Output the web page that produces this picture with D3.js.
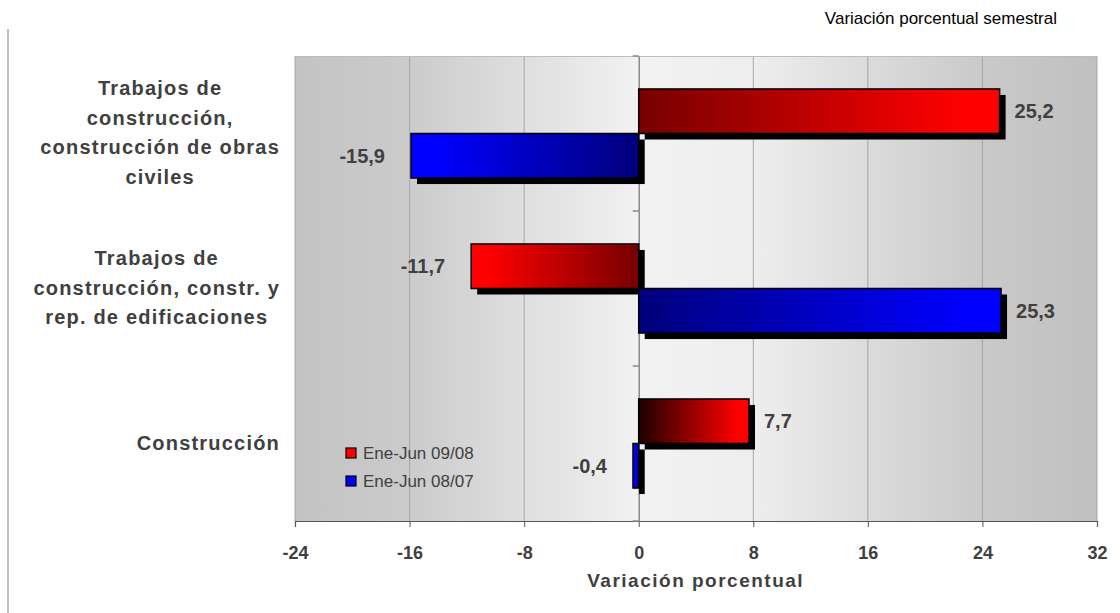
<!DOCTYPE html>
<html>
<head>
<meta charset="utf-8">
<script src="https://cdn.jsdelivr.net/npm/d3@7"></script>
<style>
  body { margin: 0; background: #fff; }
  text { font-family: "Liberation Sans", Arial, sans-serif; fill: #404040; }
</style>
</head>
<body>
<div id="chart"></div>
<script>
// chart data
var categories = ["obras", "edificaciones", "construccion"];
var categoryLines = [
  ["Trabajos de", "construcción,", "construcción de obras", "civiles"],
  ["Trabajos de", "construcción, constr. y", "rep. de edificaciones"],
  ["Construcción"]
];
var seriesNames = ["Ene-Jun 09/08", "Ene-Jun 08/07"];
var values0908 = [25.2, -11.7, 7.7];
var values0807 = [-15.9, 25.3, -0.4];
var xTicks = [-24, -16, -8, 0, 8, 16, 24, 32];
var noteText = "Variación porcentual semestral";
var axisTitle = "Variación porcentual";

var svgWidth = 1120;
var svgHeight = 613;
var margin = { top: 56, right: 23, bottom: 92, left: 295 };
var chartWidth = svgWidth - margin.left - margin.right;
var chartHeight = svgHeight - margin.top - margin.bottom;

var fmt = d3.formatLocale({ decimal: ",", thousands: ".", grouping: [3], currency: ["", ""], minus: "-" }).format(".1f");

var svg = d3.select("#chart").append("svg")
  .attr("width", svgWidth)
  .attr("height", svgHeight);

var defs = svg.append("defs");

// background gradient of the plot area
var bg = defs.append("linearGradient").attr("id", "bg").attr("x1", 0).attr("x2", 1).attr("y1", 0).attr("y2", 0);
[[0, "#c3c3c3"], [0.14, "#cbcbcb"], [0.43, "#f2f2f2"], [0.57, "#eeeeee"], [0.86, "#c9c9c9"], [1, "#c0c0c0"]]
  .forEach(function(s) { bg.append("stop").attr("offset", s[0]).attr("stop-color", s[1]); });

// left frame line
svg.append("line")
  .attr("x1", 8).attr("x2", 8).attr("y1", 29).attr("y2", 613)
  .attr("stroke", "#c0c0c0").attr("stroke-width", 2);

// note top right
svg.append("text")
  .attr("x", 1057).attr("y", 24)
  .attr("text-anchor", "end")
  .style("font-size", "17px")
  .style("fill", "#000")
  .text(noteText);

var chartGroup = svg.append("g")
  .attr("transform", `translate(${margin.left}, ${margin.top})`);

var xScale = d3.scaleLinear().domain([-24, 32]).range([0, chartWidth]);
var yScale = d3.scaleBand().domain(categories).range([0, chartHeight]);
var subScale = d3.scaleBand().domain(seriesNames).range([0, yScale.bandwidth()])
  .paddingInner(0).paddingOuter(0.74);

chartGroup.append("rect")
  .attr("width", chartWidth).attr("height", chartHeight)
  .attr("fill", "url(#bg)");

// grid lines
chartGroup.selectAll(".grid")
  .data(xTicks.filter(function(t) { return t !== 0; }))
  .enter().append("line")
  .attr("x1", function(d) { return xScale(d); })
  .attr("x2", function(d) { return xScale(d); })
  .attr("y1", 0).attr("y2", chartHeight)
  .attr("stroke", "#a6a6a6").attr("stroke-width", 1);

chartGroup.append("line")
  .attr("x1", 0).attr("x2", chartWidth).attr("y1", 0.5).attr("y2", 0.5)
  .attr("stroke", "#bdbdbd");

// bottom axis
var bottomAxis = d3.axisBottom(xScale).tickValues(xTicks).tickSize(6).tickFormat(d3.format("d"));
var gx = chartGroup.append("g")
  .attr("transform", `translate(0,${chartHeight})`)
  .call(bottomAxis);
gx.select(".domain").attr("stroke", "#555").attr("stroke-width", 1.2);
gx.selectAll(".tick line").attr("stroke", "#555");
gx.selectAll(".tick text")
  .attr("dy", null).attr("y", 38)
  .style("font-size", "18px").style("font-weight", "bold")
  .style("font-family", "'Liberation Sans', Arial, sans-serif")
  .style("fill", "#404040")
  .text(function(d) { return d3.format("d")(d).replace("−", "-"); });

// zero axis
var leftAxis = d3.axisLeft(yScale).tickValues([]).tickSizeOuter(0);
var gy = chartGroup.append("g")
  .attr("transform", `translate(${xScale(0)},0)`)
  .call(leftAxis);
gy.select(".domain").attr("stroke", "#8a8a8a").attr("stroke-width", 1.5);
var boundaries = d3.range(categories.length + 1).map(function(i) { return i * yScale.step(); });
gy.selectAll(".bound").data(boundaries).enter().append("line")
  .attr("x1", -6).attr("x2", 0)
  .attr("y1", function(d) { return d; }).attr("y2", function(d) { return d; })
  .attr("stroke", "#8a8a8a").attr("stroke-width", 1.5);

// bars
var rows = [];
categories.forEach(function(c, i) {
  rows.push({ cat: c, series: seriesNames[0], value: values0908[i], idx: i, s: 0 });
  rows.push({ cat: c, series: seriesNames[1], value: values0807[i], idx: i, s: 1 });
});

var redDark = d3.scaleLinear().domain([7.7, 11.7]).range(["#1e0000", "#760000"]).clamp(true);
var blueDark = d3.scaleLinear().domain([0.4, 15.9]).range(["#0000b0", "#00007c"]).clamp(true);

rows.forEach(function(d, i) {
  var g = defs.append("linearGradient").attr("id", "g" + i)
    .attr("y1", 0).attr("y2", 0)
    .attr("x1", d.value >= 0 ? 0 : 1).attr("x2", d.value >= 0 ? 1 : 0);
  var dark = d.s === 0 ? redDark(Math.abs(d.value)) : blueDark(Math.abs(d.value));
  var bright = d.s === 0 ? "#ff0000" : "#0000ff";
  g.append("stop").attr("offset", 0).attr("stop-color", dark);
  g.append("stop").attr("offset", 0.9).attr("stop-color", bright);
  g.append("stop").attr("offset", 1).attr("stop-color", bright);
});

function barX(d) { return Math.min(xScale(0), xScale(d.value)); }
function barW(d) { return Math.abs(xScale(d.value) - xScale(0)); }
function barY(d) { return yScale(d.cat) + subScale(d.series); }

var gbars = chartGroup.selectAll(".bar").data(rows).enter().append("g");

gbars.append("rect")
  .attr("x", function(d) { return barX(d) + 6; })
  .attr("y", function(d) { return barY(d) + 6; })
  .attr("width", barW)
  .attr("height", subScale.bandwidth())
  .attr("fill", "#000");

gbars.append("rect")
  .attr("x", barX)
  .attr("y", barY)
  .attr("width", barW)
  .attr("height", subScale.bandwidth())
  .attr("fill", function(d, i) { return "url(#g" + i + ")"; })
  .attr("stroke", "#000").attr("stroke-width", 1.5);

gbars.append("text")
  .attr("x", function(d) { return d.value >= 0 ? xScale(d.value) + 15 : xScale(d.value) - 26; })
  .attr("y", function(d) { return barY(d) + subScale.bandwidth() / 2; })
  .attr("dy", "0.36em")
  .attr("text-anchor", function(d) { return d.value >= 0 ? "start" : "end"; })
  .style("font-size", "20px").style("font-weight", "bold")
  .text(function(d) { return fmt(d.value); });

// category labels
var labelRight = -15;
var lineH = 29.5;
categories.forEach(function(c, i) {
  var lines = categoryLines[i];
  var grp = chartGroup.append("g");
  var texts = grp.selectAll("text").data(lines).enter().append("text")
    .style("font-size", "20px").style("font-weight", "bold")
    .style("letter-spacing", "1.2px")
    .attr("text-anchor", "middle")
    .attr("dy", "0.36em")
    .text(function(d) { return d; });
  var w = d3.max(texts.nodes(), function(n) { return n.getComputedTextLength(); });
  var cy = yScale(c) + yScale.bandwidth() / 2 - 1;
  texts.attr("x", labelRight - w / 2)
    .attr("y", function(d, j) { return cy + (j - (lines.length - 1) / 2) * lineH; });
});

// legend
var legend = chartGroup.selectAll(".legend").data(seriesNames).enter().append("g")
  .attr("transform", function(d, i) { return `translate(51,${392 + i * 28})`; });
legend.append("rect")
  .attr("width", 10).attr("height", 10)
  .attr("fill", function(d, i) { return i === 0 ? "#ff0000" : "#0000ff"; })
  .attr("stroke", "#000").attr("stroke-width", 1.2);
legend.append("text")
  .attr("x", 17).attr("y", 5).attr("dy", "0.36em")
  .style("font-size", "17px")
  .text(function(d) { return d; });

// axis title
chartGroup.append("text")
  .attr("x", xScale(0) + 57).attr("y", chartHeight + 66)
  .attr("text-anchor", "middle")
  .style("font-size", "19px").style("font-weight", "bold")
  .style("letter-spacing", "1.5px")
  .text(axisTitle);
</script>
</body>
</html>
